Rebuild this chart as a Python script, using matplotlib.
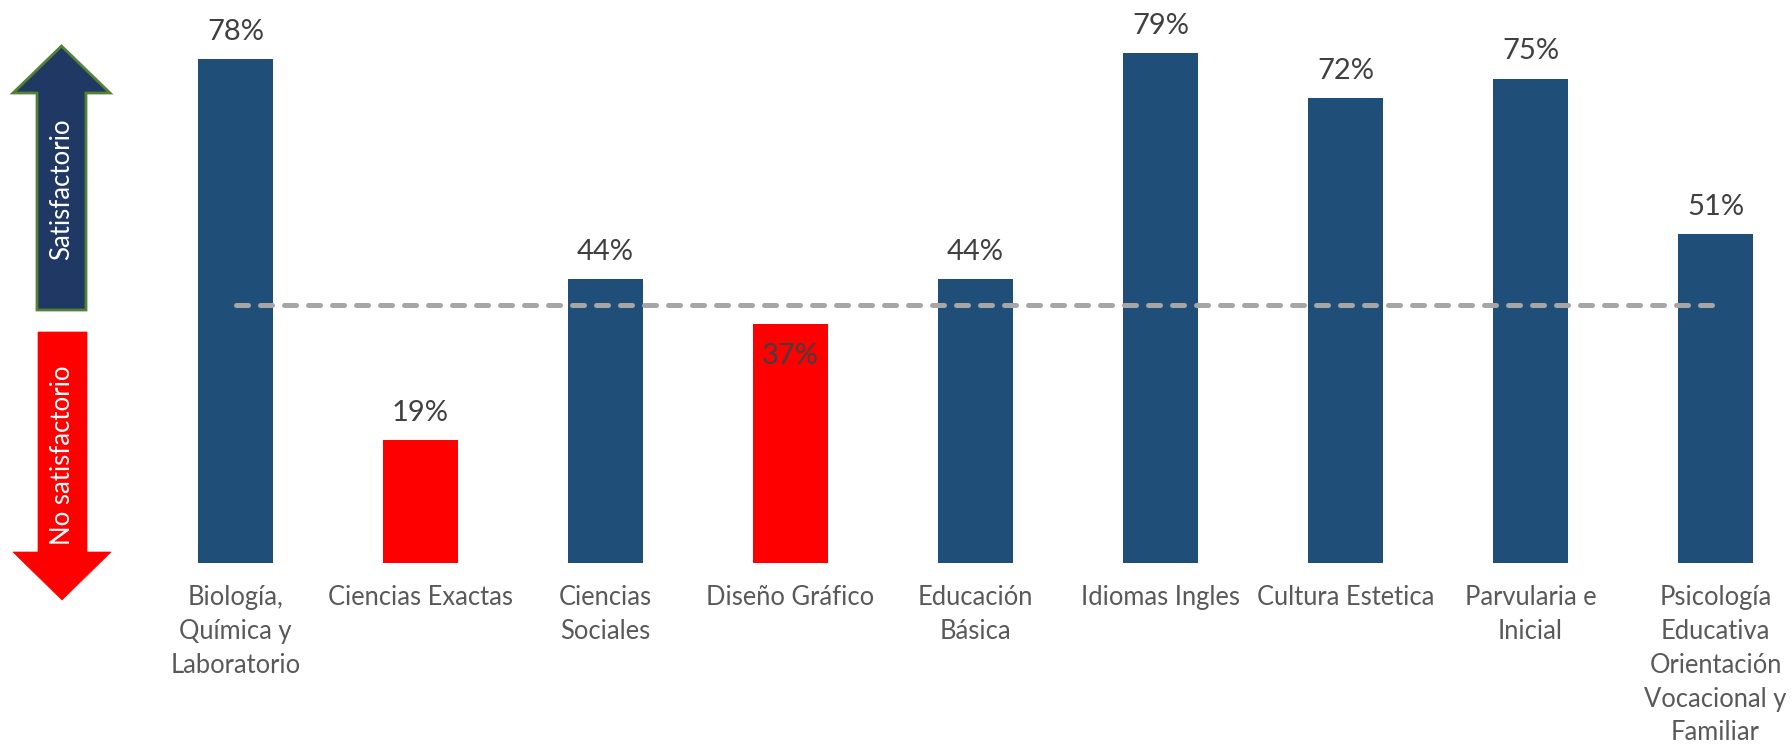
import matplotlib
matplotlib.use("Agg")
import matplotlib.pyplot as plt
from matplotlib.patches import Polygon

plt.rcParams['font.family'] = ['Lato', 'DejaVu Sans']

categories = ["Biología,\nQuímica y\nLaboratorio", "Ciencias Exactas", "Ciencias\nSociales",
              "Diseño Gráfico", "Educación\nBásica", "Idiomas Ingles", "Cultura Estetica",
              "Parvularia e\nInicial", "Psicología\nEducativa\nOrientación\nVocacional y\nFamiliar"]
values = [78, 19, 44, 37, 44, 79, 72, 75, 51]
threshold = 40
inside_label = [False, False, False, True, False, False, False, False, False]

NAVY = "#1F4E79"
RED = "#FF0000"

W, H = 1791, 747
fig = plt.figure(figsize=(W / 100, H / 100), dpi=100)

# axes placement in pixels
left_px, right_px = 124.5, 1789.5
base_px = 563  # from top
top_px = 563 - 85 * 6.46
ax = fig.add_axes([left_px / W, (H - base_px) / H, (right_px - left_px) / W, (base_px - top_px) / H])

x = list(range(len(values)))
colors = [NAVY if v >= threshold else RED for v in values]
ax.bar(x, values, width=0.405, color=colors, zorder=2)
ax.plot([x[0], x[-1]], [threshold, threshold], color="#A6A6A6", lw=3.6,
        linestyle=(0, (2.4, 2.4)), dash_capstyle='round', zorder=3)

for xi, v, ins in zip(x, values, inside_label):
    if ins:
        ax.annotate(f"{v}%", (xi, v), xytext=(0, -29), textcoords='offset points',
                    ha='center', va='baseline', fontsize=21, color="#404040", zorder=4)
    else:
        ax.annotate(f"{v}%", (xi, v), xytext=(0, 13.7), textcoords='offset points',
                    ha='center', va='baseline', fontsize=21, color="#404040", zorder=4)

ax.set_xlim(-0.6, 8.4)
ax.set_ylim(0, 85)
ax.set_xticks(x)
ax.set_xticklabels(categories, fontsize=18.4, color="#595959", linespacing=1.44)
ax.tick_params(axis='x', length=0, pad=16)
ax.set_yticks([])
for s in ax.spines.values():
    s.set_visible(False)

# arrows (figure pixel coords -> fraction)
def fpt(px, py):
    return (px / W, (H - py) / H)

up = [fpt(61.5, 46), fpt(110, 93), fpt(86, 93), fpt(86, 310), fpt(37, 310), fpt(37, 93), fpt(13, 93)]
fig.patches.append(Polygon(up, closed=True, transform=fig.transFigure, facecolor="#1F3864",
                           edgecolor="#548235", lw=2.0, joinstyle='miter'))
down = [fpt(38, 332), fpt(87, 332), fpt(87, 552), fpt(111, 552), fpt(62, 600), fpt(13, 552), fpt(38, 552)]
fig.patches.append(Polygon(down, closed=True, transform=fig.transFigure, facecolor=RED,
                           edgecolor=RED, lw=0.5))

fig.text(*fpt(62, 189), "Satisfactorio", rotation=90, ha='center', va='center',
         color='white', fontsize=18.5)
fig.text(*fpt(62, 455), "No satisfactorio", rotation=90, ha='center', va='center',
         color='white', fontsize=18.5)

fig.savefig("out.png", dpi=100, facecolor='white')
